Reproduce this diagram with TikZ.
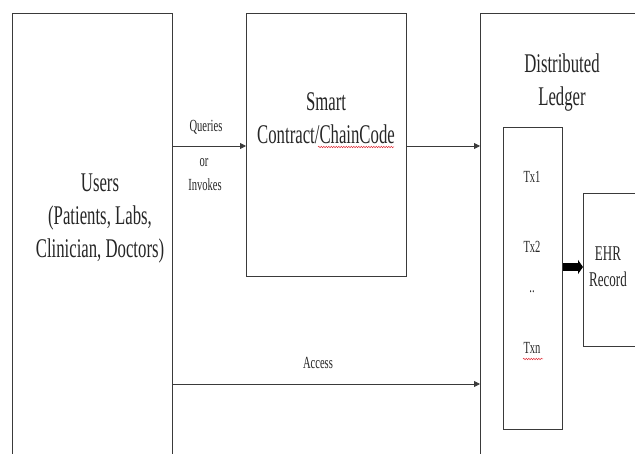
\documentclass[tikz,border=0pt]{standalone}
\usepackage{fontspec}
\setmainfont{Liberation Serif}[FakeStretch=0.62]
\usetikzlibrary{arrows.meta,positioning,calc,decorations.pathmorphing}
\definecolor{inkgrey}{HTML}{3A3A3A}
\definecolor{spellred}{HTML}{E0303A}
\tikzset{
  panel/.style={draw=inkgrey,line width=0.8pt,inner sep=0pt,anchor=north west},
  bigtxt/.style={font=\fontsize{27}{33}\selectfont,align=center,inner sep=0pt,text=black!85},
  smalltxt/.style={font=\fontsize{17}{20}\selectfont,align=center,inner sep=0pt,text=black!85},
  flow/.style={draw=inkgrey,line width=0.8pt,-{Triangle[length=6pt,width=6pt]}},
  fatflow/.style={draw=black,line width=8pt,-{Triangle[length=5pt,width=14pt]}},
  typo/.style={draw=spellred,line width=0.5pt,decorate,
               decoration={snake,amplitude=0.7pt,segment length=2.5pt}}
}

\begin{document}
\begin{tikzpicture}[x=1pt,y=-1pt]
        \useasboundingbox (0,0) rectangle (635,454);
        \clip (0,0) rectangle (635,454);
        % boxes
        \node[panel,minimum width=160pt,minimum height=460pt] (users) at (12,13) {};
        \node[panel,minimum width=160pt,minimum height=263pt] (smart) at (246,13) {};
        \node[panel,minimum width=180pt,minimum height=460pt] (ledger) at (480,13) {};
        \node[panel,minimum width=59pt,minimum height=302pt] (txbox) at (503,127) {};
        \node[panel,minimum width=70pt,minimum height=153pt] (ehr) at (583,193) {};

        % titles
        \node[bigtxt] (userstxt) at (100,219) {Users\\(Patients, Labs,\\Clinician, Doctors)};
        \node[bigtxt] (smarttxt) at (326,118) {Smart\\Contract/ChainCode};
        \node[bigtxt] (ledgertxt) at (562,83) {Distributed\\Ledger};
        \node[smalltxt,font=\fontsize{21}{26}\selectfont] (ehrtxt) at (608,267) {EHR\\Record};

        % transactions
        \node[smalltxt] (tx1) at (532,177) {Tx1};
        \node[smalltxt] (tx2) at (532,247) {Tx2};
        \node[smalltxt] (txdots) at (532,292) {..};
        \node[smalltxt] (txn) at (532,348) {Txn};

        % connectors
        \coordinate (qline) at (0,146);
        \coordinate (aline) at (0,384);
        \draw[flow] (users.east |- qline) -- (smart.west |- qline);
        \draw[flow] (smart.east |- qline) -- (ledger.west |- qline);
        \draw[flow] (users.east |- aline) -- (ledger.west |- aline);
        \draw[fatflow] (txbox.east |- ehrtxt) -- (ehr.west |- ehrtxt);

        \node[smalltxt] (queries) at (206,127) {Queries};
        \node[smalltxt] (ortxt) at (204,163) {or};
        \node[smalltxt] (invokes) at (205,185) {Invokes};
        \node[smalltxt] (access) at (318,363) {Access};

        % spell-check marks
        \draw[typo] (318,147) -- (394,147);
        \draw[typo] (523,359) -- (543,359);
      \end{tikzpicture}
\end{document}
